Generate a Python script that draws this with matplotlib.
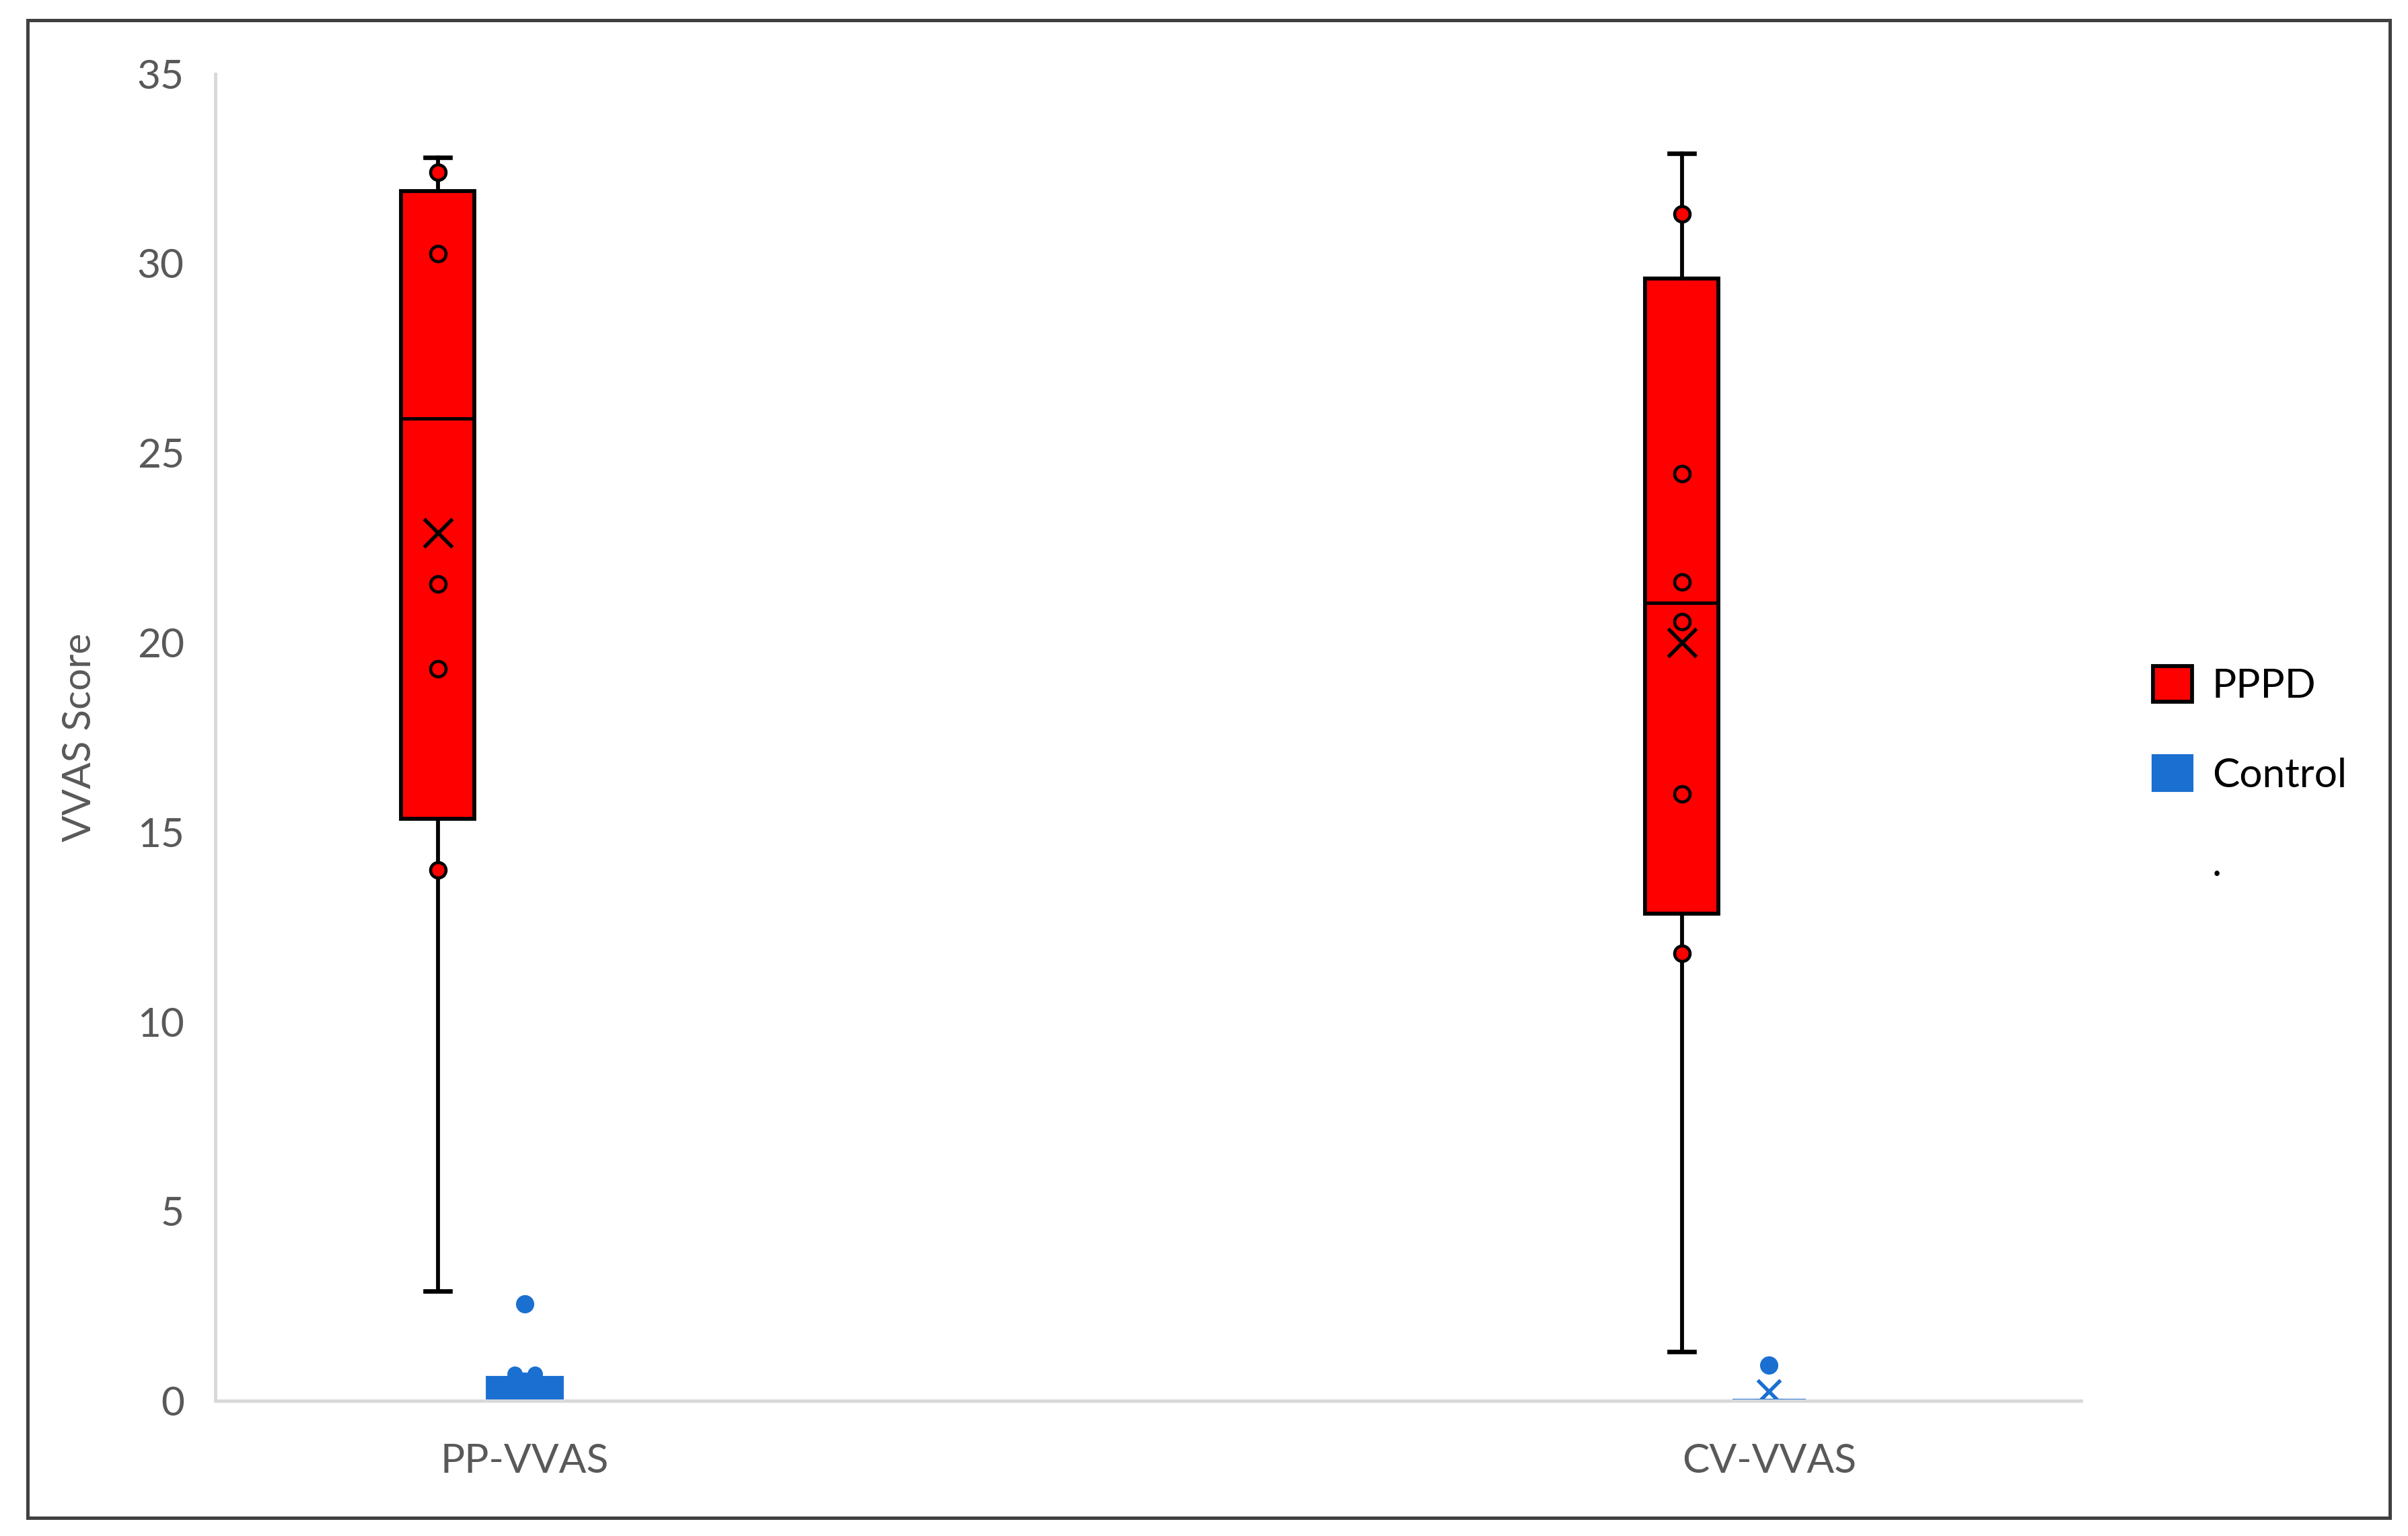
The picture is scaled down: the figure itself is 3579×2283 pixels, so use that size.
import matplotlib.pyplot as plt
from matplotlib.patches import Patch, Rectangle

plt.rcParams['font.family'] = ['Lato', 'DejaVu Sans']

categories = ['PP-VVAS', 'CV-VVAS']

# PPPD group
pppd_whislo = [2.9, 1.3]
pppd_q1 = [15.35, 12.85]
pppd_med = [25.9, 21.05]
pppd_q3 = [31.9, 29.6]
pppd_whishi = [32.8, 32.9]
pppd_mean = [22.9, 20.0]
pppd_points = [[32.4, 30.25, 21.55, 19.3, 14.0],
               [31.3, 24.45, 21.6, 20.55, 16.0, 11.8]]

# Control group
ctrl_whislo = [0.0, 0.0]
ctrl_q1 = [0.0, 0.0]
ctrl_med = [0.3, 0.0]
ctrl_q3 = [0.6, 0.0]
ctrl_whishi = [0.7, 0.0]
ctrl_mean = [0.4, 0.25]
ctrl_points = [[0.72, 0.72], []]
ctrl_outliers = [[2.55], [0.95]]

red = '#ff0000'
blue = '#1a6fd1'
grey = '#595959'

fig = plt.figure(figsize=(11.93, 7.61), dpi=300)
ax = fig.add_axes([0.0893, 0.088, 0.7748, 0.864])

xs = [0, 1]
red_off = -0.07
blue_off = 0.0
bw = 0.059


def make_stats(lo, q1, med, q3, hi, mean):
    return [dict(whislo=lo[i], q1=q1[i], med=med[i], q3=q3[i], whishi=hi[i],
                 mean=mean[i], fliers=[]) for i in range(len(lo))]


red_pos = [x + red_off for x in xs]
blue_pos = [x + blue_off for x in xs]

ax.bxp(make_stats(pppd_whislo, pppd_q1, pppd_med, pppd_q3, pppd_whishi, pppd_mean),
       positions=red_pos, widths=bw, capwidths=0.02, patch_artist=True,
       showmeans=True, showfliers=False,
       boxprops=dict(facecolor=red, edgecolor='black', linewidth=1.4),
       medianprops=dict(color='black', linewidth=1.2),
       whiskerprops=dict(color='black', linewidth=1.4),
       capprops=dict(color='black', linewidth=1.6),
       meanprops=dict(marker='x', markeredgecolor='black', markersize=10,
                      markeredgewidth=1.3))

ax.bxp(make_stats(ctrl_whislo, ctrl_q1, ctrl_med, ctrl_q3, ctrl_whishi, ctrl_mean),
       positions=blue_pos, widths=bw, capwidths=0.02, patch_artist=True,
       showmeans=True, showfliers=False,
       boxprops=dict(facecolor=blue, edgecolor=blue, linewidth=1.4),
       medianprops=dict(color=blue, linewidth=1.2),
       whiskerprops=dict(color=blue, linewidth=1.4),
       capprops=dict(color=blue, linewidth=1.6),
       meanprops=dict(marker='x', markeredgecolor=blue, markersize=8,
                      markeredgewidth=1.3))

for i, x in enumerate(red_pos):
    ax.plot([x] * len(pppd_points[i]), pppd_points[i], 'o', ms=5.5,
            mfc=red, mec='black', mew=1.1, zorder=5)
for i, x in enumerate(blue_pos):
    if ctrl_points[i]:
        ax.plot([x - 0.008, x + 0.008], ctrl_points[i], 'o', ms=4.5,
                mfc=blue, mec=blue, mew=1.0, zorder=5)
    ax.plot([x] * len(ctrl_outliers[i]), ctrl_outliers[i], 'o', ms=5.5,
            mfc=blue, mec=blue, zorder=5)

ax.set_xlim(-0.249, 1.2506)
ax.set_ylim(0, 35)
ax.set_yticks(range(0, 36, 5))
ax.set_xticks(xs)
ax.set_xticklabels(categories)
ax.tick_params(length=0, labelsize=14.5, colors=grey)
ax.tick_params(axis='x', pad=15)
ax.tick_params(axis='y', pad=11)
ax.set_ylabel('VVAS Score', fontsize=14, color=grey, labelpad=14)

for s in ['top', 'right']:
    ax.spines[s].set_visible(False)
ax.spines['left'].set_color('#d9d9d9')
ax.spines['bottom'].set_color('#d9d9d9')
ax.spines['left'].set_linewidth(1.2)
ax.spines['bottom'].set_linewidth(1.2)

handles = [Patch(facecolor=red, edgecolor='black', linewidth=1.4),
           Patch(facecolor=blue, edgecolor=blue),
           Patch(facecolor='none', edgecolor='none')]
fig.legend(handles, ['PPPD', 'Control', '.'], loc='upper left',
           bbox_to_anchor=(0.879, 0.59), frameon=False, fontsize=14.5,
           handlelength=0.95, handleheight=0.95, labelspacing=1.25,
           handletextpad=0.5)

fig.patches.append(Rectangle((18 / 1568, 1 - 988 / 1000), 1538 / 1568, 975 / 1000,
                             transform=fig.transFigure, fill=False,
                             edgecolor='#404040', linewidth=1.2))

fig.savefig('out.png', dpi=300)
